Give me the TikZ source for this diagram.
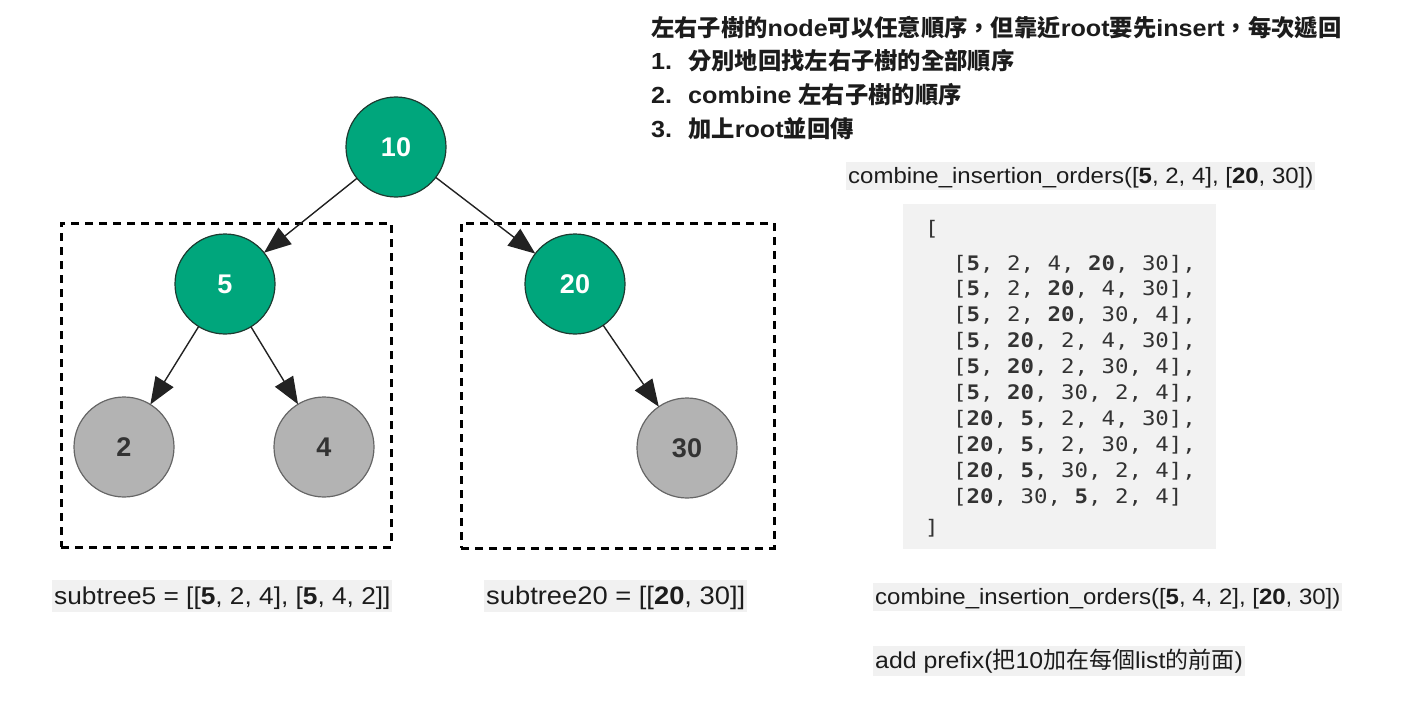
\documentclass[tikz,border=0pt]{standalone}
\usepackage{fontspec}
\setmainfont{Liberation Sans}[FakeStretch=1.08]
\newfontfamily\cjk{Noto Sans CJK TC}
\newfontfamily\monof{DejaVu Sans Mono}[FakeStretch=1.12]
\newfontfamily\nodef{Liberation Sans}
\usetikzlibrary{arrows.meta}
\definecolor{tgreen}{HTML}{00A67C}
\definecolor{tgreenline}{HTML}{1E3A30}
\definecolor{tgray}{HTML}{B3B3B3}
\definecolor{tgrayline}{HTML}{666666}
\definecolor{labbg}{HTML}{F1F1F1}
\definecolor{codebg}{HTML}{F2F2F2}
\definecolor{txt}{HTML}{1C1C1C}
\definecolor{codetxt}{HTML}{333333}
\definecolor{arrowc}{HTML}{222222}
\newcommand{\C}[1]{{\cjk #1}}
\newcommand{\Bf}[1]{{\bfseries #1}}
\begin{document}
\begin{tikzpicture}[x=1pt,y=-1pt,
  greennode/.style={circle,draw=tgreenline,line width=1.2pt,fill=tgreen,minimum size=100,inner sep=0,outer sep=0,
    font=\nodef\fontsize{27}{27}\selectfont\bfseries,text=white},
  graynode/.style={circle,draw=tgrayline,line width=1.2pt,fill=tgray,minimum size=100,inner sep=0,outer sep=0,
    font=\nodef\fontsize{27}{27}\selectfont\bfseries,text=codetxt},
  arr/.style={draw=arrowc,line width=1.4pt,-{Triangle[length=27pt,width=21pt]}},
  dashbox/.style={draw=black,line width=3pt,dash pattern=on 8pt off 6pt,inner sep=0,minimum width=#1},
  toptext/.style={anchor=base west,inner sep=0,text=txt,font=\fontsize{23.3}{23.3}\selectfont\bfseries},
  lab/.style={anchor=base west,inner xsep=2pt,inner ysep=0,fill=labbg,text=txt},
  coderow/.style={anchor=base west,inner sep=0,text=codetxt,font=\monof\fontsize{20}{20}\selectfont}
]
\useasboundingbox (0,0) rectangle (1408,706);

% dashed boxes
\node[dashbox=330,minimum height=324] (box5) at (226,385) {};
\node[dashbox=313,minimum height=325] (box20) at (617.5,385.5) {};

% tree nodes
\node[greennode] (n10) at (396,147) {10};
\node[greennode] (n5) at (225,284) {5};
\node[greennode] (n20) at (575,284) {20};
\node[graynode] (n2) at (124,447) {2};
\node[graynode] (n4) at (324,447) {4};
\node[graynode] (n30) at (687,448) {30};

\draw[arr] (n10) -- (n5);
\draw[arr] (n10) -- (n20);
\draw[arr] (n5) -- (n2);
\draw[arr] (n5) -- (n4);
\draw[arr] (n20) -- (n30);

% top explanation
\node[toptext] (t1) at (651,37) {\C{左右子樹的}node\C{可以任意順序，但靠近}root\C{要先}insert\C{，每次遞回}};
\node[toptext] (t2n) at (651,70) {1.};
\node[toptext] (t2) at (688,70) {\C{分別地回找左右子樹的全部順序}};
\node[toptext] (t3n) at (651,104) {2.};
\node[toptext] (t3) at (688,104) {combine \C{左右子樹的順序}};
\node[toptext] (t4n) at (651,138) {3.};
\node[toptext] (t4) at (688,138) {\C{加上}root\C{並回傳}};

% combine label
\node[lab,text height=21,text depth=7,font=\fontsize{22.2}{22.2}\selectfont] (comb1) at (846,183)
  {combine\_insertion\_orders([\Bf{5}, 2, 4], [\Bf{20}, 30])};

% code box
\node[fill=codebg,inner sep=0,minimum width=313,minimum height=345] (code) at (1059.5,376.5) {};
\node[coderow] (cl0) at (925,235) {[};
\node[coderow] (cr1) at (953,270) {[\Bf{5}, 2, 4, \Bf{20}, 30],};
\node[coderow] (cr2) at (953,295.9) {[\Bf{5}, 2, \Bf{20}, 4, 30],};
\node[coderow] (cr3) at (953,321.8) {[\Bf{5}, 2, \Bf{20}, 30, 4],};
\node[coderow] (cr4) at (953,347.7) {[\Bf{5}, \Bf{20}, 2, 4, 30],};
\node[coderow] (cr5) at (953,373.6) {[\Bf{5}, \Bf{20}, 2, 30, 4],};
\node[coderow] (cr6) at (953,399.5) {[\Bf{5}, \Bf{20}, 30, 2, 4],};
\node[coderow] (cr7) at (953,425.4) {[\Bf{20}, \Bf{5}, 2, 4, 30],};
\node[coderow] (cr8) at (953,451.3) {[\Bf{20}, \Bf{5}, 2, 30, 4],};
\node[coderow] (cr9) at (953,477.2) {[\Bf{20}, \Bf{5}, 30, 2, 4],};
\node[coderow] (cr10) at (953,503.1) {[\Bf{20}, 30, \Bf{5}, 2, 4]};
\node[coderow] (cl11) at (925,534) {]};

% bottom labels
\node[lab,text height=24,text depth=8,font=\fontsize{24.3}{24.3}\selectfont] (sub5) at (52,604)
  {subtree5 = [[\Bf{5}, 2, 4], [\Bf{5}, 4, 2]]};
\node[lab,text height=24,text depth=8,font=\fontsize{25.3}{25.3}\selectfont] (sub20) at (484,604)
  {subtree20 = [[\Bf{20}, 30]]};
\node[lab,text height=21,text depth=7,font=\fontsize{22.2}{22.2}\selectfont] (comb2) at (873,604)
  {combine\_insertion\_orders([\Bf{5}, 4, 2], [\Bf{20}, 30])};
\node[lab,text height=22,text depth=8,font=\fontsize{23}{23}\selectfont] (prefix) at (873,668)
  {add prefix(\C{把}10\C{加在每個}list\C{的前面})};
\end{tikzpicture}
\end{document}
